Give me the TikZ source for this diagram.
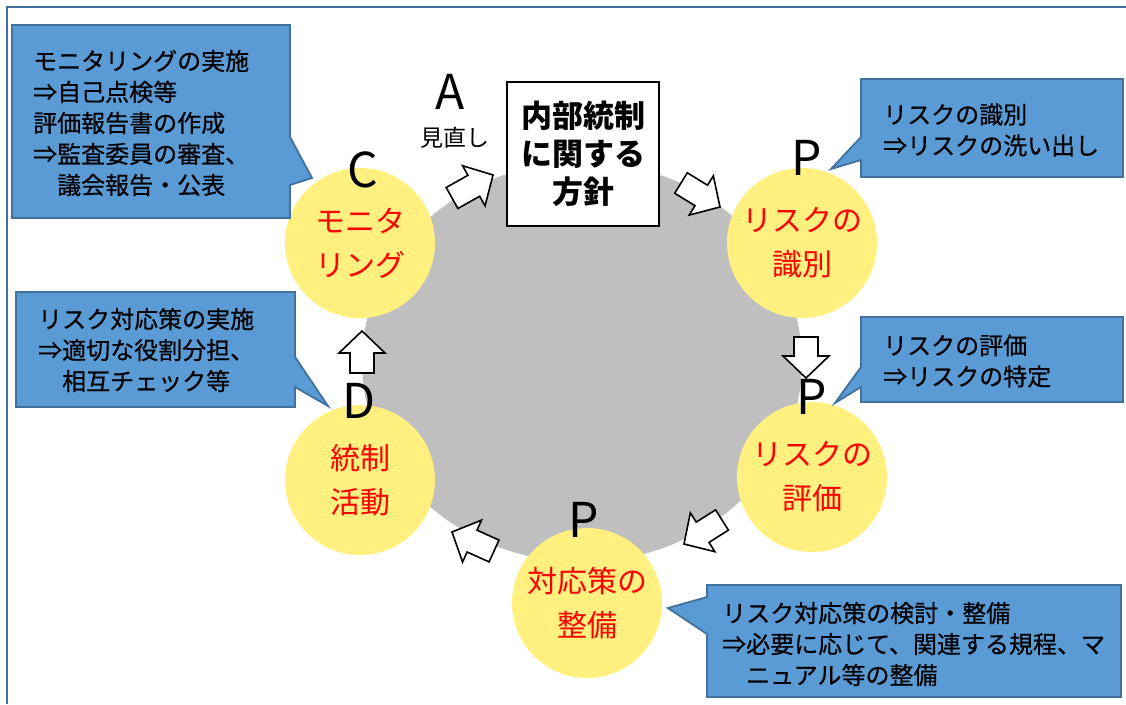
\documentclass[tikz,border=0pt]{standalone}
\usepackage{fontspec}
\setmainfont{Noto Sans CJK JP}
\newfontfamily\calloutfont[FakeBold=0.6]{Noto Sans CJK JP}
\usetikzlibrary{calc}
\definecolor{callfill}{HTML}{5B9BD5}
\definecolor{callline}{HTML}{41719C}
\definecolor{ringgray}{HTML}{BFBFBF}
\definecolor{stageyellow}{HTML}{FFF07F}
\definecolor{framecol}{HTML}{41719C}
\newcommand\blockarrow[2]{%
  \coordinate (ba-n) at ($(#2)!22pt!(#1)$);
  \draw[blockarr] ($(#1)!12pt!90:(#2)$) -- ($(ba-n)!12pt!90:(#2)$) -- ($(ba-n)!23pt!90:(#2)$)
    -- (#2) -- ($(ba-n)!23pt!-90:(#2)$) -- ($(ba-n)!12pt!-90:(#2)$) -- ($(#1)!12pt!-90:(#2)$) -- cycle;}
\begin{document}
\begin{tikzpicture}[x=1pt,y=-1pt,
  callout/.style={fill=callfill,draw=callline,line width=1.8pt,line join=miter},
  calltext/.style={anchor=west,inner sep=0pt,align=left,font=\calloutfont\fontsize{24}{31}\selectfont},
  stage/.style={circle,fill=stageyellow,minimum size=150pt,inner sep=0pt,align=center,text=red,font=\fontsize{30}{44}\selectfont},
  letter/.style={inner sep=0pt,font=\fontsize{48}{48}\selectfont},
  blockarr/.style={draw=black,fill=white,line width=1.6pt,line join=miter}]
\useasboundingbox (0,0) rectangle (1126,704);
\fill[white] (0,0) rectangle (1126,704);
% frame
\draw[framecol,line width=2.5pt] (7,704) -- (7,7) -- (1126,7);
% central ring
\fill[ringgray] (582,362) ellipse [x radius=220pt, y radius=200pt];
% stages
\node[stage] (mon) at (360,243) {モニタ\\リング};
\node[stage] (rid) at (802,243) {リスクの\\識別};
\node[stage] (rev) at (812,477) {リスクの\\評価};
\node[stage] (resp) at (587,603) {対応策の\\整備};
\node[stage] (ctl) at (360,480) {統制\\活動};
% letters
\node[letter] (lC) at (363,170) {C};
\node[letter] (lP1) at (807,158) {P};
\node[letter] (lP2) at (812,397) {P};
\node[letter] (lP3) at (584,520) {P};
\node[letter] (lD) at (359,401) {D};
\node[letter] (lA) at (450,92) {A};
\node[inner sep=0pt,font=\fontsize{23}{23}\selectfont] (review) at (455,138) {見直し};
% policy box
\node[draw,line width=1.5pt,fill=white,minimum width=152pt,minimum height=144pt,align=center,
  font=\bfseries\fontsize{31}{38}\selectfont] (policy) at (583,154) {内部統制\\に関する\\方針};
% block arrows
\coordinate (a1t) at (452,198); \coordinate (a1h) at (493,175);
\coordinate (a2t) at (681,183); \coordinate (a2h) at (720,207);
\coordinate (a3t) at (806,337); \coordinate (a3h) at (806,378);
\coordinate (a4t) at (722,520); \coordinate (a4h) at (684,544);
\coordinate (a5t) at (494,551); \coordinate (a5h) at (452,532);
\coordinate (a6t) at (362,373); \coordinate (a6h) at (362,331);
\blockarrow{a1t}{a1h}
\blockarrow{a2t}{a2h}
\blockarrow{a3t}{a3h}
\blockarrow{a4t}{a4h}
\blockarrow{a5t}{a5h}
\blockarrow{a6t}{a6h}
% callouts
\draw[callout] (12,25) -- (290,25) -- (290,137) -- (312,178) -- (290,185) -- (290,218) -- (12,218) -- cycle;
\node[calltext] (t1) at (33,123) {モニタリングの実施\\⇒自己点検等\\評価報告書の作成\\⇒監査委員の審査、\\\hspace*{1em}議会報告・公表};
\draw[callout] (861,79) -- (1123,79) -- (1123,177) -- (861,177) -- (861,160) -- (831,169) -- (861,137) -- cycle;
\node[calltext] (t2) at (883,130) {リスクの識別\\⇒リスクの洗い出し};
\draw[callout] (861,317) -- (1123,317) -- (1123,402) -- (861,402) -- (861,387) -- (835,403) -- (861,367) -- cycle;
\node[calltext] (t3) at (883,361) {リスクの評価\\⇒リスクの特定};
\draw[callout] (16,292) -- (295,292) -- (295,357) -- (328,406) -- (295,387) -- (295,407) -- (16,407) -- cycle;
\node[calltext] (t4) at (38,350) {リスク対応策の実施\\⇒適切な役割分担、\\\hspace*{1em}相互チェック等};
\draw[callout] (707,585) -- (1121,585) -- (1121,697) -- (707,697) -- (707,634) -- (668,608) -- (707,597) -- cycle;
\node[calltext] (t5) at (722,644) {リスク対応策の検討・整備\\⇒必要に応じて、関連する規程、マ\\\hspace*{1em}ニュアル等の整備};
\end{tikzpicture}
\end{document}
